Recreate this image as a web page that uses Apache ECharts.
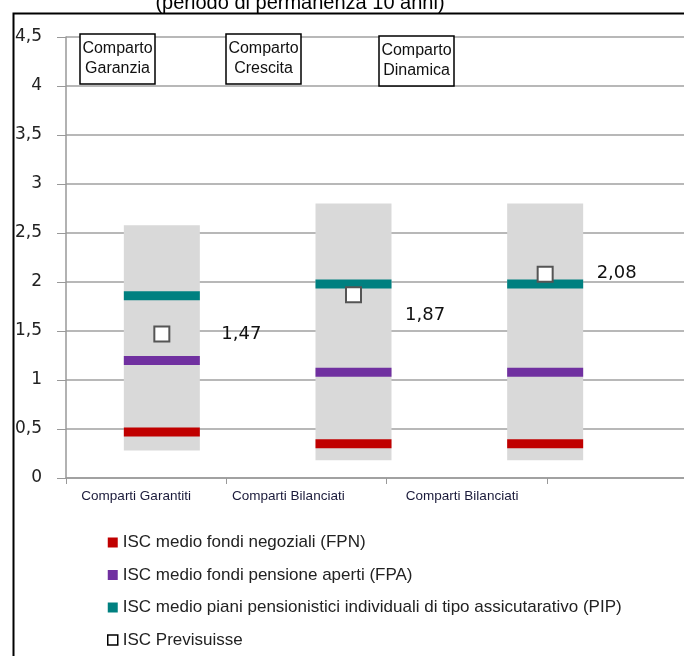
<!DOCTYPE html>
<html>
<head>
<meta charset="utf-8">
<title>ISC comparti</title>
<script src="https://cdn.jsdelivr.net/npm/echarts@6/dist/echarts.min.js"></script>
<style>
    html, body { margin: 0; padding: 0; background: #fff; }
    #chart { width: 684px; height: 656px; }
</style>
</head>
<body>
<div id="chart"></div>
<script>
    // etichette asse x (4 categorie, l'ultima fuori immagine)
    var axisCategories = ['Comparti Garantiti', 'Comparti Bilanciati', 'Comparti Bilanciati', ''];
    // comparti (barre)
    var comparti = ['Comparto\nGaranzia', 'Comparto\nCrescita', 'Comparto\nDinamica'];
    var yTicks = [0, 0.5, 1, 1.5, 2, 2.5, 3, 3.5, 4, 4.5];

    // range min / max (barra grigia)
    var rangeMin = [0.28, 0.18, 0.18];
    var rangeMax = [2.58, 2.80, 2.80];

    var iscFPN = [0.47, 0.35, 0.35];
    var iscFPA = [1.20, 1.08, 1.08];
    var iscPIP = [1.86, 1.98, 1.98];
    var iscPrevisuisse = [1.47, 1.87, 2.08];

    var seriesNames = [
        'ISC medio fondi negoziali (FPN)',
        'ISC medio fondi pensione aperti (FPA)',
        'ISC medio piani pensionistici individuali di tipo assicutarativo (PIP)',
        'ISC Previsuisse'
    ];

    // spostamenti delle etichette dei valori / delle etichette asse x
    var labelOffsets = [[10, 0], [2, 21], [2, -1]];
    var axisLabelPadRight = [20, 36, 9, 0];

    function comma(v) {
        return String(v).replace('.', ',');
    }

    var rangeSize = rangeMax.map(function (v, i) { return +(v - rangeMin[i]).toFixed(2); });

    var chart = echarts.init(document.getElementById('chart'));

    var boxPos = [[80, 34], [226, 34], [379, 36]];
    var graphics = [
        {
            type: 'rect', left: 11, top: 11, z: 100,
            shape: { width: 720, height: 720 },
            style: { fill: null, stroke: '#000', lineWidth: 2 }
        },
        {
            type: 'text', x: 300, y: 3, z: 100,
            style: {
                text: '(periodo di permanenza 10 anni)',
                fill: '#000', font: '20px "Liberation Sans", Arial',
                align: 'center', verticalAlign: 'middle'
            }
        }
    ];
    comparti.forEach(function (c, i) {
        graphics.push({
            type: 'rect', x: boxPos[i][0], y: boxPos[i][1], z: 100,
            shape: { width: 75, height: 50 },
            style: { fill: '#fff', stroke: '#000', lineWidth: 1.5 }
        });
        graphics.push({
            type: 'text', x: boxPos[i][0] + 37.5, y: boxPos[i][1] + 25, z: 101,
            style: {
                text: c, fill: '#111', font: '16px "Liberation Sans", Arial',
                align: 'center', verticalAlign: 'middle', lineHeight: 20
            }
        });
    });

    chart.setOption({
        backgroundColor: '#fff',
        animation: false,
        textStyle: { fontFamily: '"Liberation Sans", Arial' },
        grid: [
            { left: 66, top: 37, width: 641, height: 441, outerBoundsMode: 'none' },
            { left: 66, top: 37, width: 575, height: 441, outerBoundsMode: 'none' }
        ],
        legend: {
            orient: 'vertical',
            left: 107,
            top: 534,
            padding: 0,
            itemGap: 15.5,
            itemWidth: 10,
            itemHeight: 10,
            selectedMode: false,
            textStyle: { color: '#222', fontSize: 17, fontFamily: '"Liberation Sans", Arial' },
            data: [
                { name: seriesNames[0] },
                { name: seriesNames[1] },
                { name: seriesNames[2] },
                { name: seriesNames[3], itemStyle: { borderWidth: 1.5, borderColor: '#000' } }
            ]
        },
        xAxis: [
            {
                type: 'category',
                gridIndex: 0,
                data: axisCategories.map(function (c, i) {
                    return { value: c, textStyle: { padding: [0, axisLabelPadRight[i], 0, 0] } };
                }),
                axisLine: { lineStyle: { color: '#999', width: 1.5 } },
                axisTick: { show: true, length: 6, lineStyle: { color: '#999' } },
                axisLabel: {
                    color: '#1a1a3a', fontSize: 13.5, margin: 11, interval: 0
                },
                splitLine: { show: false }
            },
            {
                type: 'category',
                gridIndex: 1,
                data: comparti,
                show: false
            }
        ],
        yAxis: [
            {
                type: 'value',
                gridIndex: 0,
                min: yTicks[0],
                max: yTicks[yTicks.length - 1],
                interval: 0.5,
                axisLine: { show: true, lineStyle: { color: '#999', width: 1.5 } },
                axisTick: { show: true, length: 9, lineStyle: { color: '#999' } },
                axisLabel: {
                    color: '#222', fontSize: 17, margin: 24,
                    fontFamily: '"DejaVu Sans", Verdana',
                    formatter: function (v) { return comma(v); }
                },
                splitLine: { lineStyle: { color: '#a0a0a0', width: 1.5 } }
            },
            {
                type: 'value',
                gridIndex: 1,
                min: yTicks[0],
                max: yTicks[yTicks.length - 1],
                show: false,
                splitLine: { show: false }
            }
        ],
        series: [
            {
                name: 'base',
                type: 'bar',
                xAxisIndex: 1, yAxisIndex: 1,
                stack: 'range',
                barWidth: 76,
                itemStyle: { color: 'transparent' },
                data: rangeMin
            },
            {
                name: 'range',
                type: 'bar',
                xAxisIndex: 1, yAxisIndex: 1,
                stack: 'range',
                barWidth: 76,
                itemStyle: { color: '#d9d9d9' },
                data: rangeSize
            },
            {
                name: seriesNames[0],
                type: 'scatter',
                xAxisIndex: 1, yAxisIndex: 1,
                symbol: 'rect',
                symbolSize: [76, 9],
                itemStyle: { color: '#c00000', opacity: 1 },
                data: iscFPN
            },
            {
                name: seriesNames[1],
                type: 'scatter',
                xAxisIndex: 1, yAxisIndex: 1,
                symbol: 'rect',
                symbolSize: [76, 9],
                itemStyle: { color: '#7030a0', opacity: 1 },
                data: iscFPA
            },
            {
                name: seriesNames[2],
                type: 'scatter',
                xAxisIndex: 1, yAxisIndex: 1,
                symbol: 'rect',
                symbolSize: [76, 9],
                itemStyle: { color: '#008080', opacity: 1 },
                data: iscPIP
            },
            {
                name: seriesNames[3],
                type: 'scatter',
                xAxisIndex: 1, yAxisIndex: 1,
                z: 5,
                symbol: 'rect',
                symbolSize: 15,
                itemStyle: { color: '#fff', borderColor: '#555', borderWidth: 2, opacity: 1 },
                label: {
                    show: true,
                    position: 'right',
                    distance: 41,
                    color: '#111',
                    fontSize: 18,
                    fontFamily: '"DejaVu Sans", Verdana',
                    formatter: function (p) { return comma(p.value.toFixed(2)); }
                },
                data: iscPrevisuisse.map(function (v, i) {
                    return { value: v, label: { offset: labelOffsets[i] } };
                })
            }
        ],
        graphic: graphics
    });
</script>
</body>
</html>
